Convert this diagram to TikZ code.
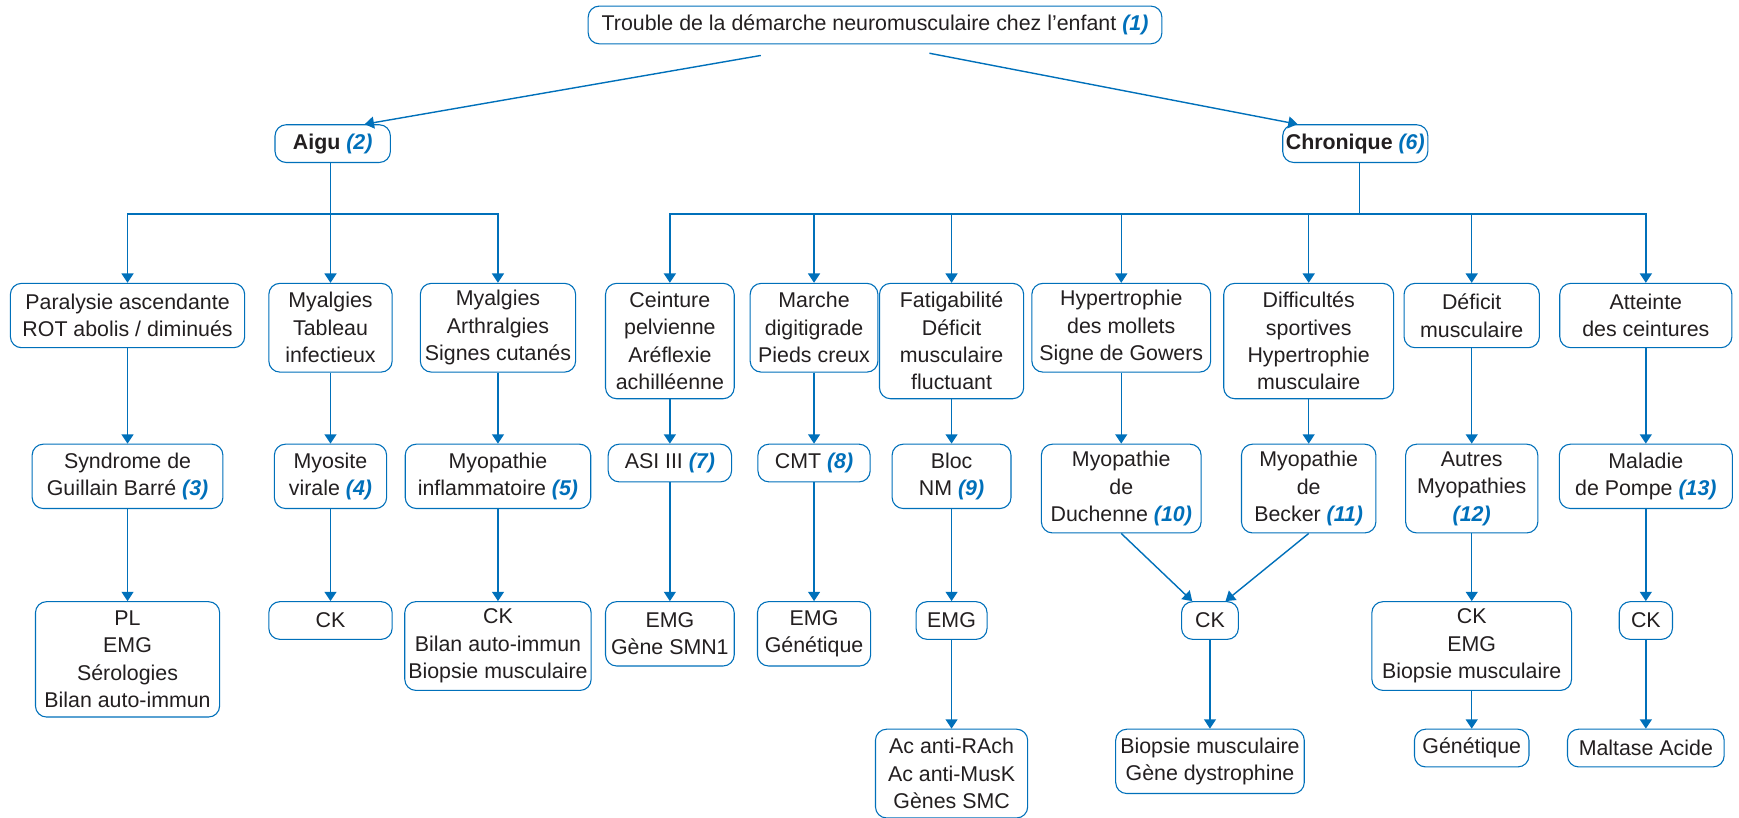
\documentclass[tikz,border=0pt]{standalone}
\usepackage{fontspec}
\setmainfont{Liberation Sans}
\usetikzlibrary{arrows.meta,positioning}
\definecolor{bleu}{RGB}{0,112,186}
\definecolor{texte}{RGB}{35,31,32}
\newcommand{\nb}[1]{\textcolor{bleu}{\textbf{\textit{(#1)}}}}

\begin{document}
\begin{tikzpicture}
		[x=0.025cm,y=-0.025cm,
		main node/.style={draw=bleu,line width=0.7pt,rounded corners=0.25cm,fill=white,
			text=texte,align=center,anchor=north,inner xsep=2pt,inner ysep=0pt,
			font=\fontsize{13.7}{17.6}\selectfont},
		h1/.style={minimum height=0.85cm},
		h2/.style={minimum height=1.45cm},
		h3/.style={minimum height=2cm},
		h4/.style={minimum height=2.6cm},
		trait/.style={draw=bleu,line width=0.9pt},
		fleche/.style={trait,-{Triangle[width=0.27cm,length=0.21cm]}}
		]
		
		\useasboundingbox (0,0) rectangle (1568,737);
		
		% racine et deux branches
		\node [main node,h1,minimum width=12.93cm] (1) at (789,5) {Trouble de la démarche neuromusculaire chez l’enfant \nb{1}};
		\node [main node,h1,minimum width=2.6cm] (2) at (300,112) {\textbf{Aigu} \nb{2}};
		\node [main node,h1,minimum width=3.2cm] (3) at (1222,112) {\textbf{Chronique} \nb{6}};
		
		% aigu
		\node [main node,h2,minimum width=5.28cm] (4) at (115,255) {Paralysie ascendante\\ROT abolis / diminués};
		\node [main node,h3,minimum width=2.78cm] (5) at (298,255) {Myalgies\\Tableau\\infectieux};
		\node [main node,h3,minimum width=3.5cm] (6) at (449,255) {Myalgies\\Arthralgies\\Signes cutanés};
		
		\node [main node,h2,minimum width=4.3cm] (7) at (115,400) {Syndrome de\\Guillain Barré \nb{3}};
		\node [main node,h2,minimum width=2.53cm] (8) at (298,400) {Myosite\\virale \nb{4}};
		\node [main node,h2,minimum width=4.18cm] (9) at (449,400) {Myopathie\\inflammatoire \nb{5}};
		
		\node [main node,h4,minimum width=4.15cm] (10) at (115,542) {PL\\EMG\\Sérologies\\Bilan auto-immun};
		\node [main node,h1,minimum width=2.78cm] (11) at (298,542) {CK};
		\node [main node,h3,minimum width=4.2cm] (12) at (449,542) {CK\\Bilan auto-immun\\Biopsie musculaire};
		
		% chronique
		\node [main node,h4,minimum width=2.9cm] (13) at (604,255) {Ceinture\\pelvienne\\Aréflexie\\achilléenne};
		\node [main node,h3,minimum width=2.88cm] (14) at (734,255) {Marche\\digitigrade\\Pieds creux};
		\node [main node,h4,minimum width=3.25cm] (15) at (858,255) {Fatigabilité\\Déficit\\musculaire\\fluctuant};
		\node [main node,h3,minimum width=4.03cm] (16) at (1011,255) {Hypertrophie\\des mollets\\Signe de Gowers};
		\node [main node,h4,minimum width=3.83cm] (17) at (1180,255) {Difficultés\\sportives\\Hypertrophie\\musculaire};
		\node [main node,h2,minimum width=3.05cm] (18) at (1327,255) {Déficit\\musculaire};
		\node [main node,h2,minimum width=3.88cm] (19) at (1484,255) {Atteinte\\des ceintures};
		
		\node [main node,h1,minimum width=2.78cm] (20) at (604,400) {ASI III \nb{7}};
		\node [main node,h1,minimum width=2.53cm] (21) at (734,400) {CMT \nb{8}};
		\node [main node,h2,minimum width=2.68cm] (22) at (858,400) {Bloc\\NM \nb{9}};
		\node [main node,h3,minimum width=3.6cm] (23) at (1011,400) {Myopathie\\de\\Duchenne \nb{10}};
		\node [main node,h3,minimum width=3.03cm] (24) at (1180,400) {Myopathie\\de\\Becker \nb{11}};
		\node [main node,h3,minimum width=2.98cm] (25) at (1327,400) {Autres\\Myopathies\\\nb{12}};
		\node [main node,h2,minimum width=3.9cm] (26) at (1484,400) {Maladie\\de Pompe \nb{13}};
		
		\node [main node,h2,minimum width=2.9cm] (27) at (604,542) {EMG\\Gène SMN1};
		\node [main node,h2,minimum width=2.55cm] (28) at (734,542) {EMG\\Génétique};
		\node [main node,h1,minimum width=1.6cm] (29) at (858,542) {EMG};
		\node [main node,h1,minimum width=1.28cm] (30) at (1091,542) {CK};
		\node [main node,h3,minimum width=4.5cm] (31) at (1327,542) {CK\\EMG\\Biopsie musculaire};
		\node [main node,h1,minimum width=1.2cm] (32) at (1484,542) {CK};
		
		\node [main node,h3,minimum width=3.43cm] (33) at (858,657) {Ac anti-RAch\\Ac anti-MusK\\Gènes SMC};
		\node [main node,h2,minimum width=4.25cm] (34) at (1091,657) {Biopsie musculaire\\Gène dystrophine};
		\node [main node,h1,minimum width=2.58cm] (35) at (1327,657) {Génétique};
		\node [main node,h1,minimum width=3.53cm] (36) at (1484,657) {Maltase Acide};
		
		\coordinate (d1) at (686,50);
		\coordinate (d2) at (838,48);
		\coordinate (j2) at (298,193);
		\coordinate (j3) at (1226,193);
		
		\draw[fleche] (d1) -- ([xshift=0.72cm]2.north);
		\draw[fleche] (d2) -- ([xshift=-1.3cm]3.north);
		
		\draw[trait] (2.south -| j2) -- (j2);
		\draw[fleche] (j2) -| (4.north);
		\draw[fleche] (j2) -- (5.north);
		\draw[fleche] (j2) -| (6.north);
		
		\draw[trait] (3.south -| j3) -- (j3);
		\foreach \n in {13,...,19}
			\draw[fleche] (j3) -| (\n.north);
		
		\path[every edge/.style={fleche}]
		(4) edge (7)  (5) edge (8)  (6) edge (9)
		(7) edge (10) (8) edge (11) (9) edge (12)
		(13) edge (20) (14) edge (21) (15) edge (22) (16) edge (23)
		(17) edge (24) (18) edge (25) (19) edge (26)
		(20) edge (27) (21) edge (28) (22) edge (29)
		(25) edge (31) (26) edge (32)
		(29) edge (33) (30) edge (34) (31) edge (35) (32) edge (36)
		;
		\draw[fleche] (23.south) -- ([xshift=-0.4cm]30.north);
		\draw[fleche] (24.south) -- ([xshift=0.35cm]30.north);
		
\end{tikzpicture}
\end{document}
